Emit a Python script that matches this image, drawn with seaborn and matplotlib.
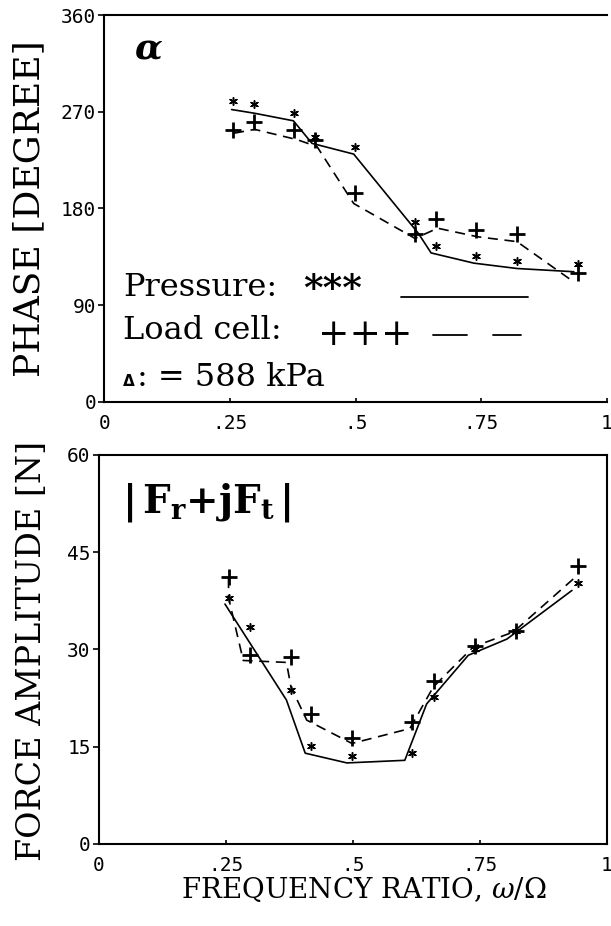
import matplotlib
matplotlib.use("Agg")
import matplotlib.pyplot as plt
import seaborn as sns

# frequency ratios of the measured points
freq = [.255, .298, .378, .418, .498, .617, .66, .74, .82, .942]

# phase (degree)
phase_pressure = [279.5, 277.0, 268.5, 246.5, 237.0, 167.5, 144.5, 136.0, 131.0, 128.0]
phase_loadcell = [253.0, 260.5, 253.0, 244.0, 194.5, 156.0, 170.0, 160.0, 156.0, 119.5]
phase_solid_x = [.253, .299, .376, .413, .496, .625, .65, .735, .821, .934]
phase_solid_y = [272.0, 268.5, 261.5, 240.5, 230.5, 156.5, 138.5, 129.0, 124.0, 121.0]
phase_dash_x = [.258, .299, .383, .423, .496, .618, .663, .743, .821, .934]
phase_dash_y = [250.0, 253.5, 244.0, 237.5, 184.5, 152.0, 161.5, 153.5, 149.0, 111.5]

# force amplitude (N)
force_pressure = [38.0, 33.5, 23.7, 15.1, 13.5, 14.0, 22.7, 30.1, 32.9, 40.2]
force_loadcell = [41.1, 29.1, 28.8, 20.1, 16.3, 18.8, 25.2, 30.6, 32.9, 42.9]
force_solid_x = [.248, .369, .406, .488, .602, .645, .727, .803, .931]
force_solid_y = [37.0, 22.2, 14.0, 12.5, 12.9, 21.6, 29.1, 31.6, 39.1]
force_dash_x = [.255, .255, .284, .369, .378, .409, .498, .612, .658, .737, .816, .937]
force_dash_y = [41.0, 38.0, 28.3, 28.0, 24.2, 19.1, 15.5, 17.8, 24.2, 30.4, 32.7, 41.1]

xticks = [0, .25, .5, .75, 1]
xticklabels = ["0", ".25", ".5", ".75", "1"]

sns.set_style("ticks")
plt.rcParams["font.family"] = ["DejaVu Serif"]
plt.rcParams["mathtext.fontset"] = "dejavuserif"
for k in ("text.color", "axes.labelcolor", "xtick.color", "ytick.color", "axes.edgecolor"):
    plt.rcParams[k] = "black"

fig = plt.figure(figsize=(6.11, 9.26), dpi=100)
ax1 = fig.add_axes([0.171, 0.5662, 0.8224, 0.4176])
ax2 = fig.add_axes([0.162, 0.0886, 0.8314, 0.4201])

ASTER = (6, 2, 0)


def draw(ax, sx, sy, dx, dy, yp, yl):
    sns.lineplot(x=sx, y=sy, ax=ax, color="k", lw=1.2, sort=False, estimator=None)
    sns.lineplot(x=dx, y=dy, ax=ax, color="k", lw=1.2, sort=False, estimator=None,
                 linestyle=(0, (6, 4)))
    sns.scatterplot(x=freq, y=yp, ax=ax, color="k", marker=ASTER, s=30, linewidth=1.1)
    sns.scatterplot(x=freq, y=yl, ax=ax, color="k", marker="+", s=130, linewidth=2.0)


draw(ax1, phase_solid_x, phase_solid_y, phase_dash_x, phase_dash_y,
     phase_pressure, phase_loadcell)
draw(ax2, force_solid_x, force_solid_y, force_dash_x, force_dash_y,
     force_pressure, force_loadcell)

for ax in (ax1, ax2):
    ax.set_xlim(0, 1)
    ax.set_xticks(xticks)
    ax.set_xticklabels(xticklabels)
    ax.tick_params(axis="x", direction="in", length=3, width=1.2, pad=9)
    ax.tick_params(axis="y", direction="out", length=4, width=1.2, pad=2)
    for lab in ax.get_xticklabels() + ax.get_yticklabels():
        lab.set_family("DejaVu Sans Mono")
        lab.set_fontsize(14)
    for sp in ax.spines.values():
        sp.set_linewidth(1.5)

ax1.set_ylim(0, 360)
ax1.set_yticks([0, 90, 180, 270, 360])
ax1.spines["right"].set_visible(False)
ax2.set_ylim(0, 60)
ax2.set_yticks([0, 15, 30, 45, 60])

ax1.set_ylabel("PHASE [DEGREE]", fontsize=26)
ax1.yaxis.set_label_coords(-0.116, 0.5)
ax2.set_ylabel("FORCE AMPLITUDE [N]", fontsize=24)
ax2.yaxis.set_label_coords(-0.10, 0.496)
ax1.set_xlabel("")
ax2.set_xlabel(r"FREQUENCY RATIO, $\omega/\Omega$", fontsize=20)
ax2.xaxis.set_label_coords(0.522, -0.08)

# panel titles
ax1.text(.087, 329, "α", fontsize=26, style="italic", weight="bold",
         ha="center", va="center")
ax2.text(.045, 51.1, r"$\mathbf{|\,F_r{+}jF_t\,|}$", fontsize=28, va="baseline")

# hand-drawn legend inside the phase panel
ax1.text(.037, 98, "Pressure:", fontsize=23, va="baseline")
ax1.text(.395, 95, "***", fontsize=27, weight="bold", va="baseline")
ax1.plot([.59, .843], [97.7, 97.7], color="k", lw=1.3)
ax1.text(.037, 58, "Load cell:", fontsize=23, va="baseline")
ax1.text(.425, 53, "+++", fontsize=27, va="baseline")
ax1.plot([.654, .722], [62.1, 62.1], color="k", lw=1.3)
ax1.plot([.774, .828], [62.1, 62.1], color="k", lw=1.3)
ax1.text(.037, 15, "Δ", fontsize=11, family="DejaVu Sans", weight="bold", va="baseline")
ax1.text(.064, 15, ": = 588 kPa", fontsize=23, va="baseline")

fig.savefig("out.png", dpi=100)
